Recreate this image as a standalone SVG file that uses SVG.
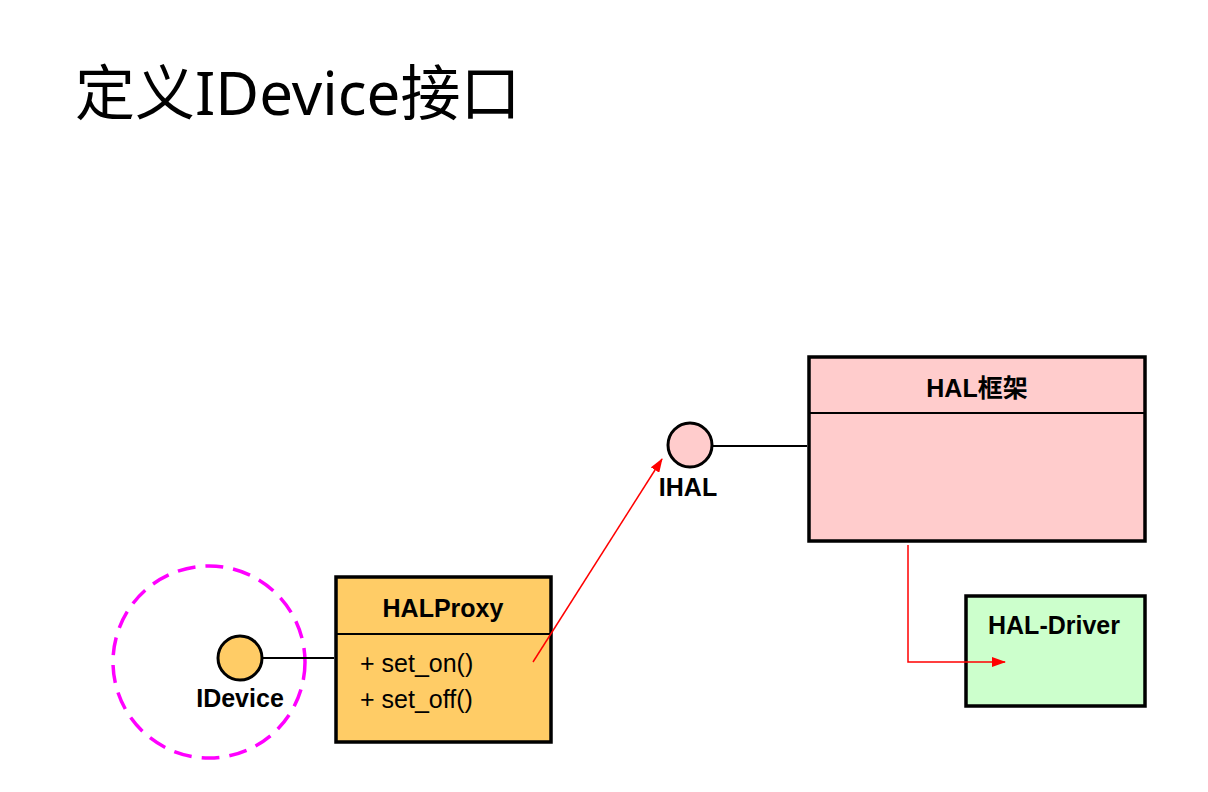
<svg xmlns="http://www.w3.org/2000/svg" width="1208" height="792" viewBox="0 0 1208 792">
<style>
.box{stroke:#000;stroke-width:3.5}
.div{stroke:#000;stroke-width:2}
.lbl{font-family:"Liberation Sans",Arial,"Noto Sans CJK SC",sans-serif;font-weight:bold;font-size:25px;fill:#000}
.mth{font-family:"Liberation Sans",Arial,sans-serif;font-size:25px;fill:#000}
.iface{stroke:#000;stroke-width:3}
.lolly{stroke:#000;stroke-width:2}
.red{stroke:#FF0000;stroke-width:1.5;fill:none}
</style>
<defs>
<marker id="arr" markerWidth="14" markerHeight="10" refX="13" refY="5" orient="auto" markerUnits="userSpaceOnUse">
<path d="M0,0 L14,5 L0,10 Z" fill="#FF0000"/>
</marker>
</defs>
<rect width="1208" height="792" fill="#fff"/>
<text x="75" y="115" font-family="'Noto Sans','Noto Sans CJK SC',sans-serif" font-size="60" fill="#000">定义IDevice接口</text>

<g id="highlight">
<circle cx="209" cy="662" r="96" fill="none" stroke="#FF00FF" stroke-width="3.5" stroke-dasharray="18,10"/>
</g>

<g id="IDevice">
<circle class="iface" cx="240" cy="658" r="22" fill="#FFCC66"/>
<text class="lbl" x="240" y="707" text-anchor="middle">IDevice</text>
</g>

<g id="HALProxy">
<rect class="box" x="336" y="577" width="215" height="165" fill="#FFCC66"/>
<line class="div" x1="336" y1="634" x2="551" y2="634"/>
<text class="lbl" x="443" y="617" text-anchor="middle">HALProxy</text>
<text class="mth" x="360" y="672">+ set_on()</text>
<text class="mth" x="360" y="708">+ set_off()</text>
</g>

<g id="IHAL">
<circle class="iface" cx="690" cy="445" r="22" fill="#FFCCCC"/>
<text class="lbl" x="688" y="496" text-anchor="middle">IHAL</text>
</g>

<g id="HALFramework">
<rect class="box" x="809" y="357" width="336" height="184" fill="#FFCCCC"/>
<line class="div" x1="809" y1="413" x2="1145" y2="413"/>
<text class="lbl" x="977" y="397" text-anchor="middle">HAL框架</text>
</g>

<g id="HALDriver">
<rect class="box" x="966" y="596" width="179" height="110" fill="#CCFFCC"/>
<text class="lbl" x="1054" y="634" text-anchor="middle">HAL-Driver</text>
</g>

<g id="connectors">
<line class="lolly" x1="262" y1="658" x2="334" y2="658"/>
<line class="lolly" x1="712" y1="446" x2="807" y2="446"/>
<line class="red" x1="533" y1="662" x2="662" y2="459" marker-end="url(#arr)"/>
<polyline class="red" points="908,545 908,662 1005,662" marker-end="url(#arr)"/>
</g>
</svg>
